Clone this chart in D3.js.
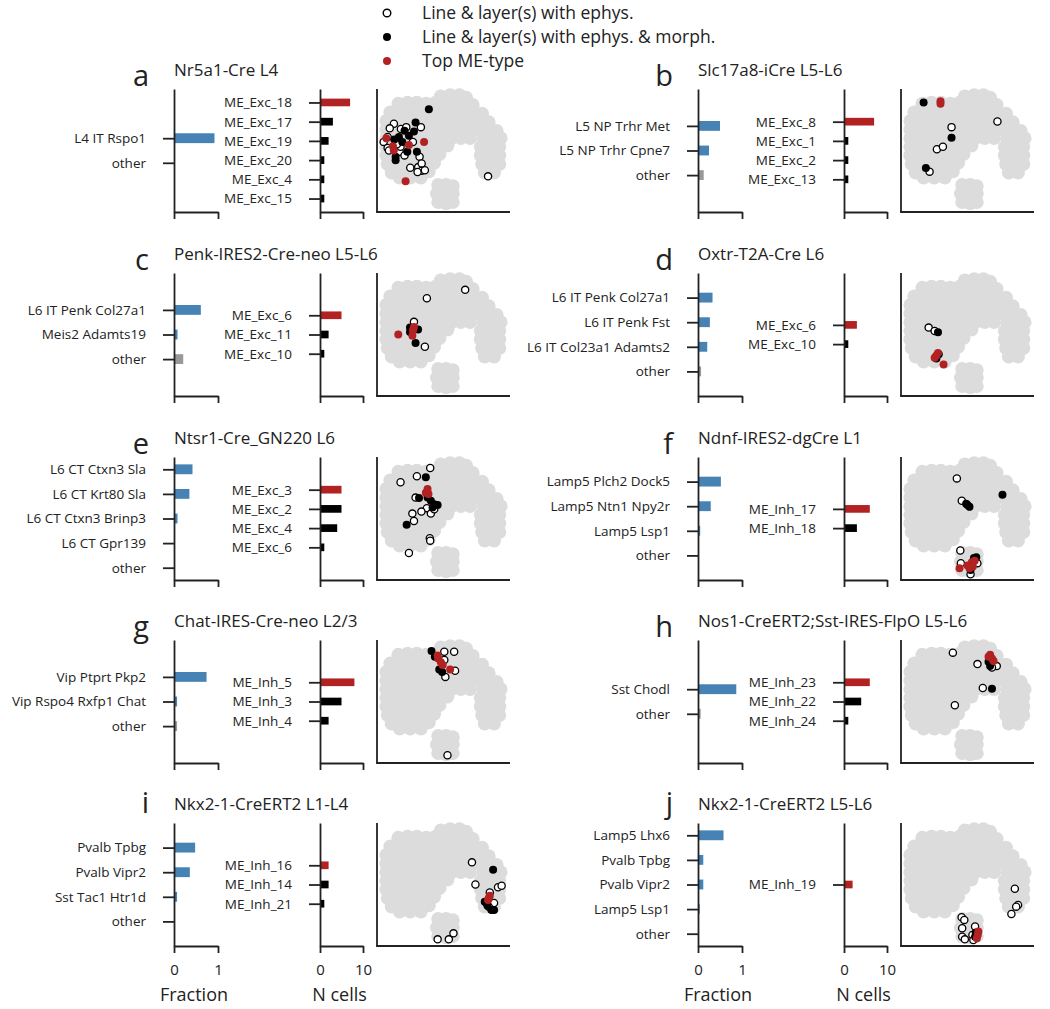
<!DOCTYPE html>
<html><head><meta charset="utf-8">
<script src="https://cdn.jsdelivr.net/npm/d3@7"></script>
<style>
body{margin:0;background:#fff;}
svg text{font-family:"Open Sans",sans-serif;fill:#222;}
</style>
</head><body>
<svg id="chart" width="1050" height="1009"></svg>
<script>
// ---------------- DATA ----------------
const panelLetters = ["a","b","c","d","e","f","g","h","i","j"];
const panelTitles = [
  "Nr5a1-Cre L4","Slc17a8-iCre L5-L6",
  "Penk-IRES2-Cre-neo L5-L6","Oxtr-T2A-Cre L6",
  "Ntsr1-Cre_GN220 L6","Ndnf-IRES2-dgCre L1",
  "Chat-IRES-Cre-neo L2/3","Nos1-CreERT2;Sst-IRES-FlpO L5-L6",
  "Nkx2-1-CreERT2 L1-L4","Nkx2-1-CreERT2 L5-L6"
];
const fracCategories = [
  ["L4 IT Rspo1","other"],
  ["L5 NP Trhr Met","L5 NP Trhr Cpne7","other"],
  ["L6 IT Penk Col27a1","Meis2 Adamts19","other"],
  ["L6 IT Penk Col27a1","L6 IT Penk Fst","L6 IT Col23a1 Adamts2","other"],
  ["L6 CT Ctxn3 Sla","L6 CT Krt80 Sla","L6 CT Ctxn3 Brinp3","L6 CT Gpr139","other"],
  ["Lamp5 Plch2 Dock5","Lamp5 Ntn1 Npy2r","Lamp5 Lsp1","other"],
  ["Vip Ptprt Pkp2","Vip Rspo4 Rxfp1 Chat","other"],
  ["Sst Chodl","other"],
  ["Pvalb Tpbg","Pvalb Vipr2","Sst Tac1 Htr1d","other"],
  ["Lamp5 Lhx6","Pvalb Tpbg","Pvalb Vipr2","Lamp5 Lsp1","other"]
];
const fracValues = [
  [0.92,0],
  [0.5,0.25,0.13],
  [0.61,0.08,0.21],
  [0.33,0.27,0.21,0.07],
  [0.42,0.35,0.08,0,0],
  [0.52,0.29,0.05,0],
  [0.74,0.07,0.07],
  [0.87,0.06],
  [0.48,0.36,0.07,0],
  [0.58,0.12,0.12,0.04,0]
];
const meTypes = [
  ["ME_Exc_18","ME_Exc_17","ME_Exc_19","ME_Exc_20","ME_Exc_4","ME_Exc_15"],
  ["ME_Exc_8","ME_Exc_1","ME_Exc_2","ME_Exc_13"],
  ["ME_Exc_6","ME_Exc_11","ME_Exc_10"],
  ["ME_Exc_6","ME_Exc_10"],
  ["ME_Exc_3","ME_Exc_2","ME_Exc_4","ME_Exc_6"],
  ["ME_Inh_17","ME_Inh_18"],
  ["ME_Inh_5","ME_Inh_3","ME_Inh_4"],
  ["ME_Inh_23","ME_Inh_22","ME_Inh_24"],
  ["ME_Inh_16","ME_Inh_14","ME_Inh_21"],
  ["ME_Inh_19"]
];
const meCounts = [
  [7,3,2,1,1,1],
  [7,1,1,1],
  [5,2,1],
  [3,1],
  [5,5,4,1],
  [6,3],
  [8,5,2],
  [6,4,1],
  [2,2,1],
  [2]
];
const fracTicks = [0,1];
const countTicks = [0,10];
const fracAxisLabel = "Fraction";
const countAxisLabel = "N cells";
const legendLabels = ["Line & layer(s) with ephys.","Line & layer(s) with ephys. & morph.","Top ME-type"];

// reference embedding (gray cloud), coordinates 0-100
const cloudPoints = [
  [48,94],[55,95],[62,95],[67,93],
  [16,88],[23,89],[30,89],[37,88],[44,89],[51,89],[58,89],[65,88],[72,87],
  [10,81],[17,81],[24,81],[31,81],[38,81],[45,81],[52,81],[59,81],[66,81],[73,81],[79,80],
  [7,74],[14,74],[21,74],[28,74],[35,74],[42,74],[49,74],[56,74],[63,74],[70,74],[77,74],[84,73],
  [7,67],[14,67],[21,67],[28,67],[35,67],[42,67],[49,67],[56,67],[63,67],[70,67],[77,67],[84,67],[90,66],
  [7,60],[14,60],[21,60],[28,60],[35,60],[42,60],[49,60],[56,60],[63,60],[70,60],[80,60],[87,60],[93,60],
  [7,53],[14,53],[21,53],[28,53],[35,53],[42,53],[49,53],[53,54],[78,53],[85,53],[92,53],
  [7,46],[14,46],[21,46],[28,46],[35,46],[42,46],[47,47],[78,46],[85,46],[92,46],
  [8,39],[15,39],[22,39],[29,39],[36,39],[43,40],[79,39],[86,39],[92,39],
  [11,32],[18,32],[25,32],[32,32],[39,33],[81,32],[88,32],
  [17,28],[25,28],[33,28],
  [46,22],[52,22],[57,21],[45,15],[51,15],[57,15],[46,8],[52,7],[57,8]
];
// cells per panel: open = ephys only, filled = ephys & morph, red = top ME-type
const openPoints = [
  [[12.7,71.7],[9.6,68],[18,67.5],[22,69],[33,69],[5,57],[8,52],[9,50],[17,49],[17.7,53],[27,57],[20.7,46],[32,45],[25,36],[31,36.5],[33.5,33.5],[30.5,32.5],[36,34],[33.6,39.5],[83.5,29],[15,55],[8,61]],
  [[38,69],[27,51],[31.5,53],[21.5,32.8],[72.5,73.6]],
  [[37.5,79.5],[66.3,86.3],[27.8,60.3],[36,40]],
  [[20.8,55.6],[25.3,52.9]],
  [[40,91],[30,84.4],[17.7,79.5],[29,67],[37.5,58.4],[33.4,55.6],[40.5,54],[26.6,54],[27.8,48],[39.7,34],[40,32],[24,22],[43,57.5]],
  [[42,82.6],[45.7,64.4],[44.6,24],[45,13.7],[52.3,4.7],[57.4,13.7]],
  [[53,6.3],[50.6,90.5],[58,90.5],[51.4,70],[58.7,75],[50.6,83.7]],
  [[39,89.7],[57.5,80.4],[61.5,61],[40.5,47],[72,78.8],[68.4,77.7]],
  [[71.4,68],[74,50],[45.6,5.4],[54,5.4],[57.5,10.3],[84.8,43.5],[91,47.8],[93.7,49],[82.3,35],[88,35],[84,32]],
  [[85.6,46.5],[88,33.4],[86.6,32],[83,26],[45.6,23.4],[47.6,21.2],[46,14.4],[46,7.6],[48,5.4],[53.7,9],[55.7,15.8],[54.4,4.9]]
];
const blackPoints = [
  [[39,83.5],[29,72.8],[27.8,65.4],[20.7,66],[16.5,61],[13,59],[22.8,49],[30,49],[14,45],[14,42],[24,62],[19,57]],
  [[17,89],[38,60.3],[18.7,35.8]],
  [[24.8,55.6],[30.9,54],[29,43],[24.8,52]],
  [[27.8,51.8],[26.6,30.5],[28.4,34]],
  [[36.7,83.6],[31.6,66.6],[40.5,64.4],[43,61.6],[45.6,61],[22.3,45],[38,67],[41.8,59]],
  [[76.3,69.3],[49,62],[51.5,59.5],[50,61],[54.8,17.8],[52.3,8.2],[56.6,18.4]],
  [[41,91],[43.5,86.4],[46.8,76],[49,74]],
  [[68.4,60.3],[65.8,82.3],[67,78.8]],
  [[87.3,62],[81,36],[86,29.3],[88,29.3],[83,33]],
  [[55.7,7.6],[56.2,10.9]]
];
const redPoints = [
  [[7,60],[12,53.5],[12.6,50],[24,54.5],[35.4,57],[21.5,25]],
  [[29.7,90],[29.7,88]],
  [[16,50],[27,53.4],[26.6,49],[27.8,56]],
  [[26.6,33],[25.3,31],[27.8,35],[32,25.6]],
  [[38,74],[38.7,70],[36.7,71]],
  [[44,9.6],[50,11.8],[53.3,14.5],[54,11],[51.5,9.6],[55.4,15.6]],
  [[46,85],[48,82],[49.4,79.6],[55,76],[45.6,87.5]],
  [[67,88],[68.4,85],[69.6,83],[65.8,86.4]],
  [[84,38.9],[84.8,40.8],[83.5,37.5]],
  [[58.2,11.7],[57.7,9],[57,6.3]]
];

// ---------------- STYLE / LAYOUT ----------------
const C = {
  axis:"#222", blue:"#4682b4", other:"#999999", red:"#b22222", black:"#000",
  cloud:"#dcdcdc"
};
const colOffset = [0,524];
const rowTop = [89,273,457,640,823];
const axH = 123;
const L = {fx0:174, fx1:218, nx0:320, nx1:363, sx0:377, sx1:510};
const fracUnits = 5.0, meUnits = 6.4;

const svg = d3.select("#chart");

// legend
const legY = [13,37,61];
const lg = svg.append("g");
legendLabels.forEach((lab,i)=>{
  const c = lg.append("circle").attr("cx",387).attr("cy",legY[i]);
  if(i===0) c.attr("r",3.8).attr("fill","#fff").attr("stroke","#000").attr("stroke-width",1.4);
  else if(i===1) c.attr("r",4).attr("fill",C.black);
  else c.attr("r",4).attr("fill",C.red);
  lg.append("text").attr("x",422).attr("y",legY[i]).attr("dy","0.35em")
    .style("font-size","17.5px").text(lab);
});

function styleAxis(g, fs){
  g.attr("font-family",null).attr("font-size",null);
  g.select(".domain").attr("stroke",C.axis).attr("stroke-width",1.8);
  g.selectAll(".tick line").attr("stroke",C.axis).attr("stroke-width",1.8);
  g.selectAll(".tick text").style("font-size",fs).attr("fill","#222");
}

panelLetters.forEach((letter,p)=>{
  const row = Math.floor(p/2), col = p%2;
  const ox = colOffset[col];
  const T = rowTop[row], B = T + axH;
  const fx0 = L.fx0+ox, fx1 = L.fx1+ox, nx0 = L.nx0+ox, nx1 = L.nx1+ox;
  const sx0 = L.sx0+ox, sx1 = L.sx1+ox;
  const last = row === rowTop.length-1;
  const g = svg.append("g");

  // letter + title
  g.append("text").attr("x",fx0-25).attr("y", last ? T-10 : T-3)
    .attr("text-anchor","end").style("font-size","29px").text(letter);
  g.append("text").attr("x",fx0).attr("y",T-13).style("font-size","17px").text(panelTitles[p]);

  // ----- fraction bars -----
  const cats = fracCategories[p], vals = fracValues[p];
  const nf = cats.length, cf = (nf-1)/2;
  const yf = d3.scaleLinear().domain([cf-fracUnits/2, cf+fracUnits/2]).range([T,B]);
  const xf = d3.scaleLinear().domain([0,1]).range([fx0,fx1]);
  const bhF = yf(0.2)-yf(-0.2);
  g.append("g").selectAll("rect").data(vals).join("rect")
    .attr("x",xf(0)).attr("y",(d,i)=>yf(i)-bhF/2)
    .attr("width",d=>Math.max(0,xf(d)-xf(0))).attr("height",bhF)
    .attr("fill",(d,i)=>cats[i]==="other"?C.other:C.blue);
  const yaxF = g.append("g").attr("transform",`translate(${fx0},0)`)
    .call(d3.axisLeft(yf).tickValues(d3.range(nf)).tickFormat(i=>cats[i])
      .tickSize(11).tickSizeOuter(0).tickPadding(17));
  styleAxis(yaxF,"13.5px");
  const xaxF = g.append("g").attr("transform",`translate(0,${B})`)
    .call(d3.axisBottom(xf).tickValues(fracTicks).tickSize(7).tickSizeOuter(0)
      .tickPadding(11).tickFormat(last? d3.format("d") : ()=>""));
  styleAxis(xaxF,"15px");

  // ----- ME-type counts -----
  const mts = meTypes[p], cnt = meCounts[p];
  const nm = mts.length, cm = (nm-1)/2;
  const ym = d3.scaleLinear().domain([cm-meUnits/2, cm+meUnits/2]).range([T,B]);
  const xm = d3.scaleLinear().domain([0,10]).range([nx0,nx1]);
  const bhM = ym(0.2)-ym(-0.2);
  g.append("g").selectAll("rect").data(cnt).join("rect")
    .attr("x",xm(0)).attr("y",(d,i)=>ym(i)-bhM/2)
    .attr("width",d=>xm(d)-xm(0)).attr("height",bhM)
    .attr("fill",(d,i)=>i===0?C.red:C.black);
  const yaxM = g.append("g").attr("transform",`translate(${nx0},0)`)
    .call(d3.axisLeft(ym).tickValues(d3.range(nm)).tickFormat(i=>mts[i])
      .tickSize(11).tickSizeOuter(0).tickPadding(17));
  styleAxis(yaxM,"13.5px");
  const xaxM = g.append("g").attr("transform",`translate(0,${B})`)
    .call(d3.axisBottom(xm).tickValues(countTicks).tickSize(7).tickSizeOuter(0)
      .tickPadding(11).tickFormat(last? d3.format("d") : ()=>""));
  styleAxis(xaxM,"15px");

  if(last){
    g.append("text").attr("x",(fx0+fx1)/2-2).attr("y",1001).attr("text-anchor","middle")
      .style("font-size","18px").text(fracAxisLabel);
    g.append("text").attr("x",(nx0+nx1)/2-2).attr("y",1001).attr("text-anchor","middle")
      .style("font-size","18px").text(countAxisLabel);
  }

  // ----- embedding scatter -----
  const xs = d3.scaleLinear().domain([0,100]).range([sx0,sx1]);
  const ys = d3.scaleLinear().domain([0,100]).range([B,T]);
  g.append("g").selectAll("circle").data(cloudPoints).join("circle")
    .attr("cx",d=>xs(d[0])).attr("cy",d=>ys(d[1])).attr("r",6.9).attr("fill",C.cloud);
  g.append("g").selectAll("circle").data(openPoints[p]).join("circle")
    .attr("cx",d=>xs(d[0])).attr("cy",d=>ys(d[1])).attr("r",3.6)
    .attr("fill","#fff").attr("stroke","#000").attr("stroke-width",1.3);
  g.append("g").selectAll("circle").data(blackPoints[p]).join("circle")
    .attr("cx",d=>xs(d[0])).attr("cy",d=>ys(d[1])).attr("r",4).attr("fill",C.black);
  g.append("g").selectAll("circle").data(redPoints[p]).join("circle")
    .attr("cx",d=>xs(d[0])).attr("cy",d=>ys(d[1])).attr("r",4).attr("fill",C.red);
  g.append("line").attr("x1",sx0).attr("x2",sx0).attr("y1",T).attr("y2",B)
    .attr("stroke",C.axis).attr("stroke-width",1.8);
  g.append("line").attr("x1",sx0-0.9).attr("x2",sx1).attr("y1",B).attr("y2",B)
    .attr("stroke",C.axis).attr("stroke-width",1.8);
});
</script>
</body></html>
